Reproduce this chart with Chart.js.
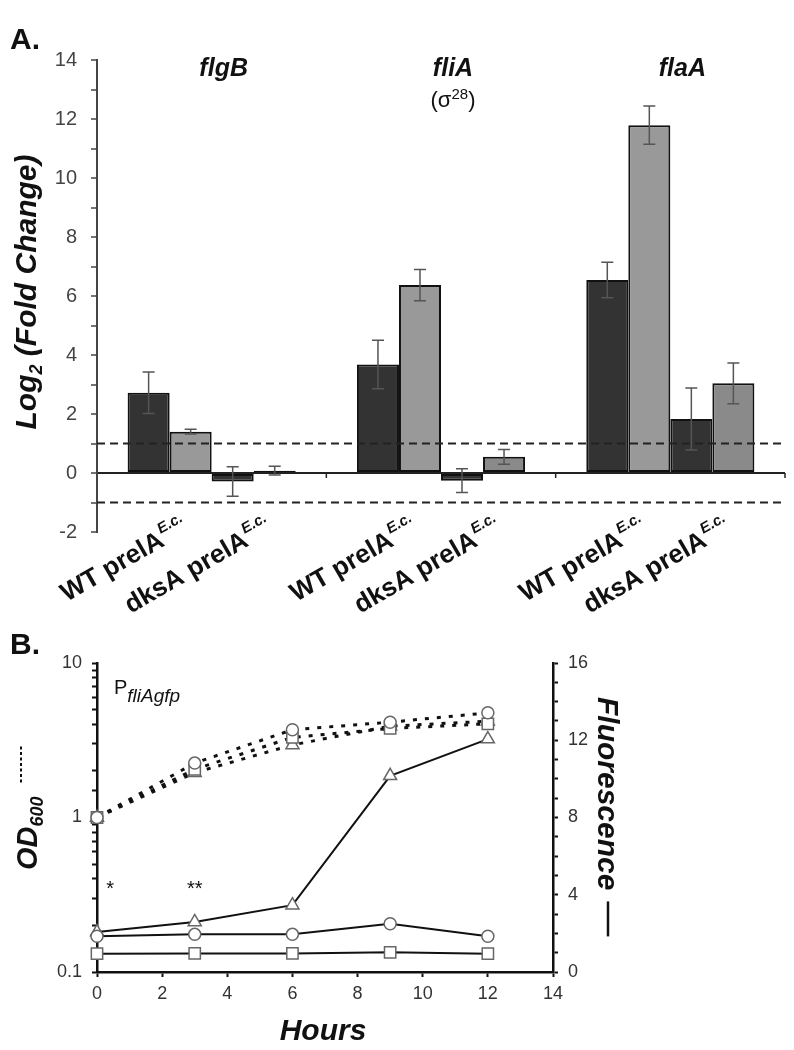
<!DOCTYPE html>
<html>
<head>
<meta charset="utf-8">
<script src="https://cdn.jsdelivr.net/npm/chart.js@4"></script>
<style>
  body { margin: 0; background: #fff; }
  #wrap { position: relative; width: 794px; height: 1050px; }
  canvas { position: absolute; left: 0; }
  #chartA { top: 0; }
  #chartB { top: 600px; }
</style>
</head>
<body>
<div id="wrap">
  <canvas id="chartA" width="794" height="640"></canvas>
  <canvas id="chartB" width="794" height="450"></canvas>
</div>
<script>
// ---- panel A data (log2 fold change) ----
const genes = ['flgB', 'fliA', 'flaA'];
const wtDark = [2.72, 3.68, 6.54];
const wtLight = [1.40, 6.37, 11.79];
const dksDark = [-0.29, -0.26, 1.83];
const dksLight = [0.08, 0.55, 3.04];
const wtDarkErr = [0.70, 0.82, 0.60];
const wtLightErr = [0.08, 0.53, 0.65];
const dksDarkErr = [0.50, 0.40, 1.05];
const dksLightErr = [0.15, 0.25, 0.69];
const strainLabels = ['WT prelA', 'dksA prelA'];

// ---- panel B data ----
const hours = [0, 3, 6, 9, 12];
const odCircle = [1.0, 2.25, 3.7, 4.14, 4.76];
const odSquare = [1.0, 2.05, 3.3, 3.77, 4.04];
const odTriangle = [1.0, 1.95, 2.95, 3.9, 4.2];
const fluCircle = [1.85, 1.95, 1.95, 2.5, 1.85];
const fluSquare = [0.95, 0.96, 0.96, 1.02, 0.95];
const fluTriangle = [2.07, 2.59, 3.46, 10.16, 12.06];

const FONT = '"Liberation Sans", Arial, sans-serif';
Chart.defaults.font.family = FONT;
Chart.defaults.animation = false;

function f(style, size) { return style + ' ' + size + 'px ' + FONT; }

// draws pieces of text one after the other: [text, font, dy]
function drawRuns(ctx, runs, x, y, align) {
  let total = 0;
  runs.forEach(r => { ctx.font = r[1]; total += ctx.measureText(r[0]).width; });
  let cx = align === 'right' ? x - total : align === 'center' ? x - total / 2 : x;
  runs.forEach(r => {
    ctx.font = r[1];
    ctx.fillText(r[0], cx, y + (r[2] || 0));
    cx += ctx.measureText(r[0]).width;
  });
  return total;
}

const errorSets = [wtDarkErr, wtLightErr, dksDarkErr, dksLightErr];

const panelA = {
  id: 'panelA',
  afterDatasetsDraw(chart) {
    const ctx = chart.ctx, ys = chart.scales.y, xs = chart.scales.x, area = chart.chartArea;
    ctx.save();
    // reference lines at +/-1
    ctx.strokeStyle = '#222';
    ctx.lineWidth = 2;
    ctx.setLineDash([8, 5]);
    [1, -1].forEach(v => {
      const py = ys.getPixelForValue(v);
      ctx.beginPath(); ctx.moveTo(area.left, py); ctx.lineTo(area.right, py); ctx.stroke();
    });
    ctx.setLineDash([]);
    // small ticks on the zero line between groups
    const y0 = ys.getPixelForValue(0);
    ctx.lineWidth = 1.5;
    for (let i = 0; i < genes.length - 1; i++) {
      const px = (xs.getPixelForValue(i) + xs.getPixelForValue(i + 1)) / 2;
      ctx.beginPath(); ctx.moveTo(px, y0); ctx.lineTo(px, y0 + 5); ctx.stroke();
    }
    ctx.beginPath(); ctx.moveTo(area.right, y0); ctx.lineTo(area.right, y0 + 5); ctx.stroke();
    // error bars
    ctx.strokeStyle = '#555';
    ctx.lineWidth = 1.5;
    errorSets.forEach((errs, i) => {
      chart.getDatasetMeta(i).data.forEach((bar, j) => {
        const v = chart.data.datasets[i].data[j];
        const top = ys.getPixelForValue(v + errs[j]);
        const bot = ys.getPixelForValue(v - errs[j]);
        ctx.beginPath();
        ctx.moveTo(bar.x, top); ctx.lineTo(bar.x, bot);
        ctx.moveTo(bar.x - 6, top); ctx.lineTo(bar.x + 6, top);
        ctx.moveTo(bar.x - 6, bot); ctx.lineTo(bar.x + 6, bot);
        ctx.stroke();
      });
    });
    ctx.restore();
  },
  afterDraw(chart) {
    const ctx = chart.ctx, xs = chart.scales.x;
    ctx.save();
    ctx.fillStyle = '#111';
    ctx.textBaseline = 'alphabetic';
    // rotated strain labels under each pair of bars
    const m = [0, 1, 2, 3].map(i => chart.getDatasetMeta(i).data);
    genes.forEach((g, j) => {
      const centers = [(m[0][j].x + m[1][j].x) / 2, (m[2][j].x + m[3][j].x) / 2];
      centers.forEach((cx, k) => {
        ctx.save();
        ctx.translate(cx - 4, 545);
        ctx.rotate(-30 * Math.PI / 180);
        ctx.font = f('bold', 26);
        const w = ctx.measureText(strainLabels[k]).width;
        ctx.fillText(strainLabels[k], -w, 0);
        ctx.font = f('bold italic', 15);
        ctx.fillText('E.c.', 1, -12);
        ctx.restore();
      });
      // gene titles
      ctx.textAlign = 'center';
      ctx.font = f('bold italic', 25);
      ctx.fillText(g, xs.getPixelForValue(j) + 12, 76);
      ctx.textAlign = 'left';
    });
    // sigma 28 under fliA
    drawRuns(ctx, [['(\u03c3', f('normal', 22)], ['28', f('normal', 15), -8], [')', f('normal', 22)]],
      xs.getPixelForValue(1) + 12, 107, 'center');
    // panel letter
    ctx.font = f('bold', 30);
    ctx.fillText('A.', 10, 49);
    // y title
    ctx.save();
    ctx.translate(36, 292);
    ctx.rotate(-Math.PI / 2);
    drawRuns(ctx, [['Log', f('bold italic', 30)], ['2', f('bold italic', 18), 6], [' (Fold Change)', f('bold italic', 30)]], 0, 0, 'center');
    ctx.restore();
    ctx.restore();
  }
};

new Chart(document.getElementById('chartA'), {
  type: 'bar',
  data: {
    labels: genes,
    datasets: [
      { label: 'WT prelA (dark)', data: wtDark, backgroundColor: '#333333' },
      { label: 'WT prelA (light)', data: wtLight, backgroundColor: '#999999' },
      { label: 'dksA prelA (dark)', data: dksDark, backgroundColor: '#333333' },
      { label: 'dksA prelA (light)', data: dksLight, backgroundColor: '#8a8a8a' }
    ].map(d => Object.assign(d, {
      borderColor: '#111', borderWidth: 2, borderSkipped: false,
      categoryPercentage: 0.733, barPercentage: 1
    }))
  },
  options: {
    responsive: false,
    layout: { padding: { left: 37, right: 9, top: 60, bottom: 108 } },
    plugins: { legend: { display: false }, tooltip: { enabled: false } },
    scales: {
      x: { display: false },
      y: {
        min: -2, max: 14,
        afterFit: s => { s.width = 60; },
        ticks: {
          stepSize: 1, autoSkip: false, padding: 14, color: '#444',
          font: { size: 20 },
          callback: v => (v % 2 === 0 ? v : '')
        },
        grid: {
          color: c => (c.tick && c.tick.value === 0 ? '#222' : 'rgba(0,0,0,0)'),
          lineWidth: 2, tickColor: '#444', tickWidth: 1.5, tickLength: 6
        },
        border: { display: true, color: '#444', width: 2 }
      }
    }
  },
  plugins: [panelA]
});

// ---- panel B ----
const panelB = {
  id: 'panelB',
  afterDraw(chart) {
    const ctx = chart.ctx, xs = chart.scales.x, ys = chart.scales.y;
    ctx.save();
    ctx.fillStyle = '#111';
    ctx.strokeStyle = '#111';
    ctx.textBaseline = 'alphabetic';
    ctx.font = f('bold', 30);
    ctx.fillText('B.', 10, 54);
    // promoter label
    drawRuns(ctx, [['P', f('normal', 20)], ['fliAgfp', f('italic', 19), 8]], 114, 94, 'left');
    // significance stars
    ctx.font = f('normal', 20);
    ctx.textAlign = 'center';
    ctx.fillText('*', xs.getPixelForValue(0.4), ys.getPixelForValue(0.37) + 11);
    ctx.fillText('**', xs.getPixelForValue(3), ys.getPixelForValue(0.37) + 11);
    // x title
    ctx.font = f('bold italic', 30);
    ctx.fillText('Hours', 323, 440);
    ctx.textAlign = 'left';
    // left title OD600 with dotted key
    ctx.save();
    ctx.translate(37, 270);
    ctx.rotate(-Math.PI / 2);
    const w = drawRuns(ctx, [['OD', f('bold italic', 29)], ['600', f('bold italic', 18), 6]], 0, 0, 'left');
    ctx.lineWidth = 2;
    ctx.setLineDash([3, 2.5]);
    ctx.beginPath(); ctx.moveTo(w + 14, -16); ctx.lineTo(w + 52, -16); ctx.stroke();
    ctx.restore();
    // right title
    ctx.save();
    ctx.translate(598, 97);
    ctx.rotate(Math.PI / 2);
    ctx.font = f('bold italic', 30);
    const w2 = ctx.measureText('Fluorescence').width;
    ctx.fillText('Fluorescence', 0, 0);
    ctx.lineWidth = 2.5;
    ctx.beginPath(); ctx.moveTo(w2 + 11, -10); ctx.lineTo(w2 + 46, -10); ctx.stroke();
    ctx.restore();
    ctx.restore();
  }
};

function pts(vals) { return hours.map((h, i) => ({ x: h, y: vals[i] })); }
const marker = { pointBackgroundColor: '#fff', pointBorderColor: '#666', pointBorderWidth: 1.5, tension: 0, clip: false };
const odStyle = Object.assign({ yAxisID: 'y', borderColor: '#111', borderWidth: 3, borderDash: [4, 8] }, marker);
const fluStyle = Object.assign({ yAxisID: 'y2', borderColor: '#111', borderWidth: 2 }, marker);

new Chart(document.getElementById('chartB'), {
  type: 'line',
  data: {
    datasets: [
      Object.assign({ label: 'OD600 circle', data: pts(odCircle), pointStyle: 'circle', pointRadius: 6 }, odStyle),
      Object.assign({ label: 'OD600 square', data: pts(odSquare), pointStyle: 'rect', pointRadius: 8 }, odStyle),
      Object.assign({ label: 'OD600 triangle', data: pts(odTriangle), pointStyle: 'triangle', pointRadius: 7.5 }, odStyle),
      Object.assign({ label: 'Fluorescence circle', data: pts(fluCircle), pointStyle: 'circle', pointRadius: 6 }, fluStyle),
      Object.assign({ label: 'Fluorescence square', data: pts(fluSquare), pointStyle: 'rect', pointRadius: 8 }, fluStyle),
      Object.assign({ label: 'Fluorescence triangle', data: pts(fluTriangle), pointStyle: 'triangle', pointRadius: 7.5 }, fluStyle)
    ]
  },
  options: {
    responsive: false,
    layout: { padding: { left: 37, right: 181, top: 63, bottom: 38 } },
    plugins: { legend: { display: false }, tooltip: { enabled: false } },
    scales: {
      x: {
        type: 'linear', min: 0, max: 14,
        afterFit: s => { s.height = 40; },
        ticks: { stepSize: 2, color: '#333', font: { size: 18 }, padding: 6 },
        grid: { drawOnChartArea: false, tickColor: '#111', tickWidth: 2, tickLength: 5 },
        border: { color: '#111', width: 2.5 }
      },
      y: {
        type: 'logarithmic', min: 0.1, max: 10, position: 'left',
        afterFit: s => { s.width = 60; },
        ticks: {
          autoSkip: false, color: '#333', font: { size: 18 }, padding: 10,
          callback: v => {
            const l = Math.log10(v);
            return Math.abs(l - Math.round(l)) < 1e-6 ? String(v) : '';
          }
        },
        grid: { drawOnChartArea: false, tickColor: '#111', tickWidth: 2, tickLength: 5 },
        border: { color: '#111', width: 2.5 }
      },
      y2: {
        type: 'linear', min: 0, max: 16, position: 'right',
        afterFit: s => { s.width = 60; },
        ticks: {
          stepSize: 1, autoSkip: false, color: '#333', font: { size: 18 }, padding: 10,
          callback: v => (v % 4 === 0 ? v : '')
        },
        grid: { drawOnChartArea: false, tickColor: '#111', tickWidth: 2, tickLength: 5 },
        border: { color: '#111', width: 2.5 }
      }
    }
  },
  plugins: [panelB]
});
</script>
</body>
</html>
